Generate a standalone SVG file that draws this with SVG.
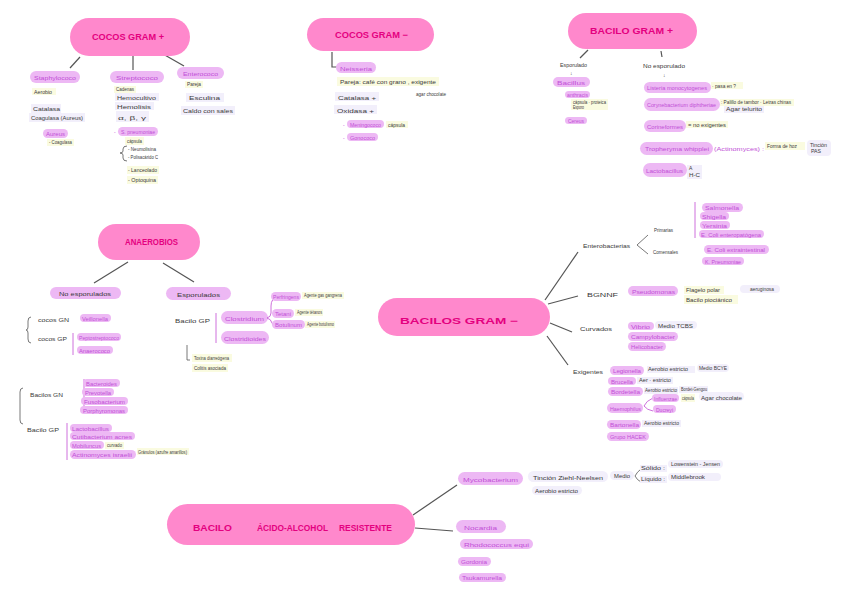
<svg xmlns="http://www.w3.org/2000/svg" width="848" height="599" viewBox="0 0 848 599">
<style>
text{font-family:"Liberation Sans",Arial,sans-serif;}
.main{fill:#ff88cc}
.mt{fill:#e4007f;font-weight:bold;font-size:9px}
.pill{fill:#edb8f4}
.pt{fill:#c14fd6;font-size:5px}
.t{fill:#3a3a3a;font-size:5px}
.hy{fill:#fafbe0}
.hl{fill:#f2effb}
.ln{stroke:#555;stroke-width:1.2;fill:none}
.br{stroke:#c860d8;stroke-width:0.9;fill:none}
.bk{stroke:#555;stroke-width:0.8;fill:none}
</style>
<rect width="848" height="599" fill="#fff"/>

<g id="connectors">
<line class="ln" x1="80" y1="57" x2="70" y2="68"/>
<line class="ln" x1="133" y1="56" x2="133" y2="70"/>
<line class="ln" x1="163" y1="54" x2="184" y2="66"/>
<path class="ln" d="M332,52 L332,67 L338,67"/>
<line class="ln" x1="588" y1="50" x2="580" y2="58"/>
<line class="ln" x1="661" y1="51" x2="662" y2="57"/>
<line class="ln" x1="128" y1="262" x2="94" y2="283"/>
<line class="ln" x1="163" y1="263" x2="194" y2="282"/>
<line class="ln" x1="545" y1="300" x2="578" y2="252"/>
<line class="ln" x1="548" y1="304" x2="578" y2="296"/>
<line class="ln" x1="550" y1="323" x2="572" y2="332"/>
<line class="ln" x1="547" y1="336" x2="568" y2="365"/>
<line class="ln" x1="413" y1="515" x2="457" y2="485"/>
<line class="ln" x1="415" y1="528" x2="453" y2="531"/>
</g>

<g id="cocos-gram-pos">
<rect class="main" x="70" y="18" width="120" height="38" rx="19"/>
<text class="mt" x="92" y="40" textLength="72" lengthAdjust="spacingAndGlyphs">COCOS GRAM +</text>
</g>
<g id="staphylococo">
<rect class="pill" x="30" y="71" width="50" height="12" rx="6"/>
<text class="pt" x="34" y="80" font-size="6.5" textLength="42" lengthAdjust="spacingAndGlyphs">Staphylococo</text>
<rect class="hy" x="32" y="88" width="24" height="7"/>
<text class="t" x="34" y="93.5" font-size="4" textLength="18" lengthAdjust="spacingAndGlyphs">Aerobio</text>
<rect class="hl" x="31" y="104" width="30" height="9"/>
<text class="t" x="33" y="111" font-size="6" textLength="27" lengthAdjust="spacingAndGlyphs">Catalasa</text>
<rect class="hl" x="29" y="113" width="56" height="9"/>
<text class="t" x="31" y="120" font-size="6" textLength="52" lengthAdjust="spacingAndGlyphs">Coagulasa (Aureus)</text>
<rect class="pill" x="43" y="129" width="25" height="9" rx="4.5"/>
<text class="pt" x="46" y="136" textLength="19" lengthAdjust="spacingAndGlyphs">Aureus</text>
<rect class="hy" x="47" y="139" width="27" height="7"/>
<text class="t" x="49" y="144" font-size="4" textLength="23" lengthAdjust="spacingAndGlyphs">- Coagulasa</text>
</g>
<g id="streptococo">
<rect class="pill" x="110" y="71" width="54" height="12" rx="6"/>
<text class="pt" x="116" y="80" font-size="6.5" textLength="42" lengthAdjust="spacingAndGlyphs">Streptococo</text>
<rect class="hy" x="114" y="86" width="22" height="7"/>
<text class="t" x="116" y="91" font-size="4" textLength="18" lengthAdjust="spacingAndGlyphs">Cadenas</text>
<rect class="hl" x="115" y="93" width="44" height="8"/>
<text class="t" x="117" y="99.5" font-size="5.5" textLength="39" lengthAdjust="spacingAndGlyphs">Hemocultivo</text>
<rect class="hl" x="115" y="102" width="39" height="8"/>
<text class="t" x="117" y="108.5" font-size="5.5" textLength="34" lengthAdjust="spacingAndGlyphs">Hemolisis</text>
<rect class="hl" x="116" y="111" width="33" height="11"/>
<text class="t" x="118" y="120" font-size="8" textLength="28" lengthAdjust="spacingAndGlyphs">α, β, γ</text>
<text class="pt" x="114" y="134">-</text>
<rect class="pill" x="118" y="127" width="40" height="9" rx="4.5"/>
<text class="pt" x="121" y="134" textLength="34" lengthAdjust="spacingAndGlyphs">S. pneumoniae</text>
<rect class="hy" x="125" y="137" width="19" height="8"/>
<text class="t" x="127" y="143" font-size="4" textLength="15" lengthAdjust="spacingAndGlyphs">cápsula</text>
<path class="bk" d="M127,146 Q123,146 123,149 L123,151 Q123,153 120,153 Q123,153 123,155 L123,158 Q123,161 127,161"/>
<text class="t" x="128" y="151" font-size="4" textLength="28" lengthAdjust="spacingAndGlyphs">- Neumolisina</text>
<text class="t" x="128" y="159" font-size="4" textLength="30" lengthAdjust="spacingAndGlyphs">- Polisacárido C</text>
<rect class="hy" x="127" y="166" width="32" height="8"/>
<text class="t" x="128" y="172" textLength="29" lengthAdjust="spacingAndGlyphs">- Lanceolado</text>
<rect class="hy" x="127" y="176" width="31" height="8"/>
<text class="t" x="128" y="182" textLength="28" lengthAdjust="spacingAndGlyphs">- Optoquina</text>
</g>
<g id="enterococo">
<rect class="pill" x="177" y="67" width="47" height="12" rx="6"/>
<text class="pt" x="183" y="76" font-size="6.5" textLength="35" lengthAdjust="spacingAndGlyphs">Enterococo</text>
<rect class="hy" x="185" y="81" width="18" height="7"/>
<text class="t" x="187" y="86" font-size="4" textLength="14" lengthAdjust="spacingAndGlyphs">Pareja</text>
<rect class="hl" x="186" y="93" width="38" height="9"/>
<text class="t" x="189" y="100" font-size="6" textLength="31" lengthAdjust="spacingAndGlyphs">Esculina</text>
<rect class="hl" x="181" y="106" width="54" height="9"/>
<text class="t" x="183" y="113" font-size="6" textLength="50" lengthAdjust="spacingAndGlyphs">Caldo con sales</text>
</g>

<g id="cocos-gram-neg">
<rect class="main" x="307" y="18" width="127" height="33" rx="16.5"/>
<text class="mt" x="335" y="37.5" font-size="8" textLength="73" lengthAdjust="spacingAndGlyphs">COCOS GRAM −</text>
</g>
<g id="neisseria">
<rect class="pill" x="336" y="62" width="40" height="11" rx="5.5"/>
<text class="pt" x="340" y="70.5" font-size="6.5" textLength="32" lengthAdjust="spacingAndGlyphs">Neisseria</text>
<rect class="hy" x="337" y="77" width="102" height="9"/>
<text class="t" x="340" y="84" font-size="5.5" textLength="96" lengthAdjust="spacingAndGlyphs">Pareja: café con grano , exigente</text>
<text class="t" x="416" y="96" font-size="4" textLength="30" lengthAdjust="spacingAndGlyphs">agar chocolate</text>
<rect class="hl" x="335" y="92" width="44" height="9"/>
<text class="t" x="338" y="99.5" font-size="6" textLength="38" lengthAdjust="spacingAndGlyphs">Catalasa +</text>
<rect class="hl" x="334" y="105" width="43" height="9"/>
<text class="t" x="337" y="112.5" font-size="6" textLength="37" lengthAdjust="spacingAndGlyphs">Oxidasa +</text>
<text class="pt" x="343" y="126.5">-</text>
<rect class="pill" x="347" y="120" width="37" height="8" rx="4"/>
<text class="pt" x="350" y="126.5" textLength="31" lengthAdjust="spacingAndGlyphs">Meningococo</text>
<rect class="hy" x="386" y="121" width="22" height="7"/>
<text class="t" x="388" y="126.5" font-size="4" textLength="17" lengthAdjust="spacingAndGlyphs">cápsula</text>
<text class="pt" x="343" y="139.5">-</text>
<rect class="pill" x="347" y="133" width="31" height="8" rx="4"/>
<text class="pt" x="350" y="139.5" textLength="25" lengthAdjust="spacingAndGlyphs">Gonococo</text>
</g>

<g id="bacilo-gram-pos">
<rect class="main" x="568" y="13" width="129" height="36" rx="18"/>
<text class="mt" x="590" y="34" font-size="8" textLength="83" lengthAdjust="spacingAndGlyphs">BACILO GRAM +</text>
</g>
<g id="esporulado">
<text class="t" x="560" y="67" textLength="27" lengthAdjust="spacingAndGlyphs">Esporulado</text>
<text class="t" x="570" y="75" font-size="6">↓</text>
<rect class="pill" x="553" y="77" width="37" height="10" rx="5"/>
<text class="pt" x="557" y="85" font-size="6" textLength="28" lengthAdjust="spacingAndGlyphs">Bacillus</text>
<rect class="pill" x="565" y="91" width="25" height="7" rx="3.5"/>
<text class="pt" x="567" y="96.5" font-size="4.5" textLength="21" lengthAdjust="spacingAndGlyphs">anthracis</text>
<rect class="hy" x="571" y="99" width="37" height="11"/>
<text class="t" x="573" y="103.5" font-size="3.8" textLength="33" lengthAdjust="spacingAndGlyphs">cápsula · proteica</text>
<text class="t" x="573" y="108.5" font-size="3.8" textLength="11" lengthAdjust="spacingAndGlyphs">Esporo</text>
<rect class="pill" x="565" y="117" width="22" height="7" rx="3.5"/>
<text class="pt" x="568" y="122.5" font-size="4.5" textLength="16" lengthAdjust="spacingAndGlyphs">Cereus</text>
</g>
<g id="no-esporulado">
<text class="t" x="643" y="68" textLength="42" lengthAdjust="spacingAndGlyphs">No esporulado</text>
<text class="t" x="663" y="77" font-size="6">↓</text>
<rect class="pill" x="644" y="82" width="67" height="11" rx="5.5"/>
<text class="pt" x="647" y="90" font-size="6" textLength="60" lengthAdjust="spacingAndGlyphs">Listeria monocytogenes</text>
<rect class="hy" x="711" y="82" width="32" height="7"/>
<text class="t" x="712" y="87.5" font-size="4" textLength="24" lengthAdjust="spacingAndGlyphs">· pasa en ?</text>
<rect class="pill" x="644" y="98" width="76" height="13" rx="6.5"/>
<text class="pt" x="647" y="107" font-size="6.5" textLength="69" lengthAdjust="spacingAndGlyphs">Corynebacterium diphtheriae</text>
<rect class="hy" x="720" y="99" width="74" height="7"/>
<text class="t" x="721" y="104" font-size="4" textLength="70" lengthAdjust="spacingAndGlyphs">: Palillo de tambor · Letras chinas</text>
<rect class="hl" x="724" y="106" width="40" height="7"/>
<text class="t" x="726" y="111" font-size="4" textLength="36" lengthAdjust="spacingAndGlyphs">Agar telurito</text>
<rect class="pill" x="644" y="120" width="42" height="12" rx="6"/>
<text class="pt" x="647" y="128.5" font-size="6" textLength="36" lengthAdjust="spacingAndGlyphs">Corineformes</text>
<rect class="hy" x="686" y="121" width="42" height="7"/>
<text class="t" x="688" y="126.5" font-size="4" textLength="38" lengthAdjust="spacingAndGlyphs">= no exigentes</text>
<rect class="pill" x="640" y="142" width="73" height="13" rx="6.5"/>
<text class="pt" x="645" y="151" font-size="6.5" textLength="64" lengthAdjust="spacingAndGlyphs">Tropheryma whipplei</text>
<text class="pt" x="714" y="151" font-size="6.5" textLength="50" lengthAdjust="spacingAndGlyphs">(Actinomyces) :</text>
<rect class="hy" x="765" y="142" width="40" height="8"/>
<text class="t" x="767" y="148" font-size="4" textLength="30" lengthAdjust="spacingAndGlyphs">Forma de hoz</text>
<rect class="hl" x="807" y="140" width="24" height="16" rx="4"/>
<text class="t" x="810" y="146.5" font-size="4" textLength="17" lengthAdjust="spacingAndGlyphs">Tinción</text>
<text class="t" x="811" y="153" font-size="4" textLength="10" lengthAdjust="spacingAndGlyphs">PAS</text>
<rect class="pill" x="643" y="163" width="44" height="14" rx="7"/>
<text class="pt" x="646" y="173" font-size="6.5" textLength="37" lengthAdjust="spacingAndGlyphs">Lactobacillus</text>
<rect class="hl" x="687" y="165" width="15" height="14"/>
<text class="t" x="689" y="170" font-size="4">A</text>
<text class="t" x="689" y="177" font-size="5" textLength="11" lengthAdjust="spacingAndGlyphs">H-C</text>
</g>

<g id="anaerobios">
<rect class="main" x="98" y="224" width="102" height="36" rx="18"/>
<text class="mt" x="125" y="245" font-size="8" textLength="53" lengthAdjust="spacingAndGlyphs">ANAEROBIOS</text>
</g>
<g id="no-esporulados">
<rect class="pill" x="50" y="287" width="71" height="12" rx="6"/>
<text class="t" x="59" y="296" font-size="7" textLength="52" lengthAdjust="spacingAndGlyphs">No esporulados</text>
<path class="bk" d="M31,317 Q28,317 28,321 L28,327 Q28,330 26,330 Q28,330 28,333 L28,339 Q28,343 31,343"/>
<text class="t" x="38" y="321.5" font-size="5.5" textLength="31" lengthAdjust="spacingAndGlyphs">cocos GN</text>
<rect class="pill" x="80" y="314" width="31" height="8" rx="4"/>
<text class="pt" x="82" y="320.5" textLength="26" lengthAdjust="spacingAndGlyphs">Veillonella</text>
<text class="t" x="38" y="340.5" font-size="5.5" textLength="29" lengthAdjust="spacingAndGlyphs">cocos GP</text>
<line class="br" x1="73" y1="333" x2="73" y2="355"/>
<rect class="pill" x="77" y="333" width="44" height="8" rx="4"/>
<text class="pt" x="79" y="339.5" textLength="40" lengthAdjust="spacingAndGlyphs">Peptostreptococo</text>
<rect class="pill" x="77" y="346" width="36" height="8" rx="4"/>
<text class="pt" x="79" y="352.5" textLength="31" lengthAdjust="spacingAndGlyphs">Anaerococo</text>
<path class="bk" d="M23,388 Q20,388 20,392 L20,420 Q20,424 23,424"/>
<text class="t" x="30" y="396.5" font-size="5.5" textLength="33" lengthAdjust="spacingAndGlyphs">Bacilos GN</text>
<line class="br" x1="84" y1="379" x2="84" y2="413"/>
<rect class="pill" x="83" y="379" width="37" height="8" rx="4"/>
<text class="pt" x="86" y="385.5" textLength="31" lengthAdjust="spacingAndGlyphs">Bacteroides</text>
<rect class="pill" x="82" y="388" width="32" height="8" rx="4"/>
<text class="pt" x="85" y="394.5" textLength="26" lengthAdjust="spacingAndGlyphs">Prevotella</text>
<rect class="pill" x="81" y="397" width="47" height="8" rx="4"/>
<text class="pt" x="84" y="403.5" textLength="41" lengthAdjust="spacingAndGlyphs">Fusobacterium</text>
<rect class="pill" x="80" y="406" width="48" height="8" rx="4"/>
<text class="pt" x="83" y="412.5" textLength="42" lengthAdjust="spacingAndGlyphs">Porphyromonas</text>
<text class="t" x="27" y="431.5" font-size="5.5" textLength="32" lengthAdjust="spacingAndGlyphs">Bacilo GP</text>
<line class="br" x1="67" y1="423" x2="67" y2="460"/>
<rect class="pill" x="70" y="424" width="42" height="8" rx="4"/>
<text class="pt" x="72" y="430.5" textLength="37" lengthAdjust="spacingAndGlyphs">Lactobacillus</text>
<rect class="pill" x="70" y="432" width="65" height="8" rx="4"/>
<text class="pt" x="72" y="438.5" textLength="60" lengthAdjust="spacingAndGlyphs">Cutibacterium acnes</text>
<rect class="pill" x="70" y="441" width="34" height="8" rx="4"/>
<text class="pt" x="72" y="447.5" textLength="29" lengthAdjust="spacingAndGlyphs">Mobiluncus</text>
<rect class="hy" x="105" y="442" width="19" height="7"/>
<text class="t" x="107" y="447" font-size="4" textLength="15" lengthAdjust="spacingAndGlyphs">curvado</text>
<rect class="pill" x="70" y="450" width="66" height="9" rx="4.5"/>
<text class="pt" x="72" y="457" textLength="60" lengthAdjust="spacingAndGlyphs">Actinomyces israelii</text>
<rect class="hy" x="137" y="448" width="52" height="7"/>
<text class="t" x="138" y="453.5" font-size="4" textLength="49" lengthAdjust="spacingAndGlyphs">Gránulos (azufre amarillos)</text>
</g>
<g id="esporulados">
<rect class="pill" x="166" y="287" width="65" height="13" rx="6.5"/>
<text class="t" x="177" y="297" font-size="7" textLength="43" lengthAdjust="spacingAndGlyphs">Esporulados</text>
<text class="t" x="175" y="322.5" font-size="6" textLength="35" lengthAdjust="spacingAndGlyphs">Bacilo GP</text>
<line class="br" x1="216" y1="313" x2="216" y2="343"/>
<rect class="pill" x="221" y="311" width="47" height="13" rx="6.5"/>
<text class="pt" x="225" y="320.5" font-size="7" textLength="39" lengthAdjust="spacingAndGlyphs">Clostridium</text>
<rect class="pill" x="221" y="331" width="48" height="13" rx="6.5"/>
<text class="pt" x="224" y="340.5" font-size="7" textLength="42" lengthAdjust="spacingAndGlyphs">Clostridioides</text>
<path class="br" d="M278,297 Q271,298 271,306 L271,313 Q271,317 267,318 Q271,319 272,323 L274,326"/>
<rect class="pill" x="271" y="292" width="30" height="9" rx="4.5"/>
<text class="pt" x="273" y="299" textLength="26" lengthAdjust="spacingAndGlyphs">Perfringens</text>
<rect class="hy" x="302" y="292" width="42" height="7"/>
<text class="t" x="304" y="297" font-size="3.8" textLength="38" lengthAdjust="spacingAndGlyphs">Agente gas gangrena</text>
<rect class="pill" x="272" y="309" width="22" height="9" rx="4.5"/>
<text class="pt" x="275" y="316" textLength="16" lengthAdjust="spacingAndGlyphs">Tetani</text>
<rect class="hy" x="295" y="309" width="28" height="7"/>
<text class="t" x="297" y="314" font-size="3.8" textLength="25" lengthAdjust="spacingAndGlyphs">Agente tétanos</text>
<rect class="pill" x="272" y="320" width="33" height="9" rx="4.5"/>
<text class="pt" x="275" y="327" textLength="27" lengthAdjust="spacingAndGlyphs">Botulinum</text>
<rect class="hy" x="305" y="321" width="30" height="7"/>
<text class="t" x="307" y="326" font-size="3.8" textLength="27" lengthAdjust="spacingAndGlyphs">Agente botulismo</text>
<path class="bk" d="M187,345 L187,360 L190,360"/>
<rect class="hy" x="192" y="354" width="40" height="8"/>
<text class="t" x="194" y="360" font-size="4" textLength="35" lengthAdjust="spacingAndGlyphs">Toxina diarreógena</text>
<rect class="hy" x="192" y="364" width="36" height="8"/>
<text class="t" x="194" y="370" font-size="4" textLength="32" lengthAdjust="spacingAndGlyphs">Colitis asociada</text>
</g>

<g id="bacilos-gram-neg">
<rect class="main" x="378" y="298" width="172" height="38" rx="19"/>
<text class="mt" x="400" y="324" font-size="11" textLength="118" lengthAdjust="spacingAndGlyphs">BACILOS GRAM −</text>
</g>
<g id="enterobacterias">
<text class="t" x="583" y="248" font-size="5.5" textLength="47" lengthAdjust="spacingAndGlyphs">Enterobacterias</text>
<path class="bk" d="M648,235 L637,245 L648,254"/>
<text class="t" x="654" y="231.5" textLength="19" lengthAdjust="spacingAndGlyphs">Primarias</text>
<text class="t" x="653" y="254" textLength="25" lengthAdjust="spacingAndGlyphs">Comensales</text>
<line class="br" x1="695" y1="202" x2="695" y2="238"/>
<rect class="pill" x="702" y="203" width="41" height="9" rx="4.5"/>
<text class="pt" x="705" y="210" textLength="34" lengthAdjust="spacingAndGlyphs">Salmonella</text>
<rect class="pill" x="700" y="212" width="29" height="8" rx="4"/>
<text class="pt" x="702" y="218.5" textLength="24" lengthAdjust="spacingAndGlyphs">Shigella</text>
<rect class="pill" x="700" y="221" width="30" height="8" rx="4"/>
<text class="pt" x="702" y="227.5" textLength="25" lengthAdjust="spacingAndGlyphs">Yersinia</text>
<rect class="pill" x="699" y="230" width="65" height="8" rx="4"/>
<text class="pt" x="701" y="236.5" textLength="60" lengthAdjust="spacingAndGlyphs">E. Coli enteropatógena</text>
<rect class="pill" x="704" y="245" width="65" height="9" rx="4.5"/>
<text class="pt" x="707" y="252" textLength="58" lengthAdjust="spacingAndGlyphs">E. Coli extraintestinal</text>
<rect class="pill" x="702" y="257" width="42" height="8" rx="4"/>
<text class="pt" x="705" y="263.5" textLength="36" lengthAdjust="spacingAndGlyphs">K. Pneumoniae</text>
</g>
<g id="bgnnf">
<text class="t" x="587" y="297" font-size="6.5" textLength="31" lengthAdjust="spacingAndGlyphs">BGNNF</text>
<rect class="pill" x="628" y="286" width="50" height="10" rx="5"/>
<text class="pt" x="632" y="294" font-size="6" textLength="43" lengthAdjust="spacingAndGlyphs">Pseudomonas</text>
<rect class="hy" x="684" y="286" width="40" height="8"/>
<text class="t" x="686" y="292" font-size="4.5" textLength="34" lengthAdjust="spacingAndGlyphs">Flagelo polar</text>
<rect class="hy" x="684" y="295" width="54" height="9"/>
<text class="t" x="686" y="301.5" font-size="4.5" textLength="46" lengthAdjust="spacingAndGlyphs">Bacilo piociánico</text>
<rect class="hl" x="740" y="285" width="40" height="8" rx="4"/>
<text class="t" x="750" y="291" font-size="4" textLength="24" lengthAdjust="spacingAndGlyphs">aeruginosa</text>
</g>
<g id="curvados">
<text class="t" x="580" y="331" font-size="6" textLength="32" lengthAdjust="spacingAndGlyphs">Curvados</text>
<rect class="pill" x="628" y="322" width="26" height="8" rx="4"/>
<text class="pt" x="631" y="328.5" font-size="5.5" textLength="19" lengthAdjust="spacingAndGlyphs">Vibrio</text>
<rect class="hl" x="655" y="321" width="42" height="8" rx="4"/>
<text class="t" x="658" y="327.5" font-size="4.5" textLength="35" lengthAdjust="spacingAndGlyphs">Medio TCBS</text>
<rect class="pill" x="628" y="332" width="50" height="9" rx="4.5"/>
<text class="pt" x="631" y="339" font-size="5.5" textLength="44" lengthAdjust="spacingAndGlyphs">Campylobacter</text>
<rect class="pill" x="628" y="342" width="38" height="9" rx="4.5"/>
<text class="pt" x="631" y="349" font-size="5.5" textLength="32" lengthAdjust="spacingAndGlyphs">Helicobacter</text>
</g>
<g id="exigentes">
<text class="t" x="573" y="373.5" font-size="6" textLength="30" lengthAdjust="spacingAndGlyphs">Exigentes</text>
<rect class="pill" x="610" y="366" width="34" height="9" rx="4.5"/>
<text class="pt" x="613" y="373" font-size="5.5" textLength="28" lengthAdjust="spacingAndGlyphs">Legionella</text>
<rect class="hl" x="647" y="366" width="48" height="7"/>
<text class="t" x="648" y="371" font-size="4" textLength="40" lengthAdjust="spacingAndGlyphs">Aerobio estricto</text>
<rect class="hl" x="697" y="364" width="32" height="8" rx="4"/>
<text class="t" x="699" y="370" font-size="4.5" textLength="28" lengthAdjust="spacingAndGlyphs">Medio BCYE</text>
<rect class="pill" x="608" y="377" width="28" height="8" rx="4"/>
<text class="pt" x="611" y="383.5" textLength="22" lengthAdjust="spacingAndGlyphs">Brucella</text>
<rect class="hl" x="637" y="377" width="36" height="7"/>
<text class="t" x="639" y="382" font-size="4" textLength="32" lengthAdjust="spacingAndGlyphs">Aer · estricto</text>
<rect class="pill" x="608" y="387" width="35" height="9" rx="4.5"/>
<text class="pt" x="611" y="394" textLength="29" lengthAdjust="spacingAndGlyphs">Bordetella</text>
<rect class="hl" x="644" y="387" width="34" height="7"/>
<text class="t" x="645" y="392" font-size="4" textLength="32" lengthAdjust="spacingAndGlyphs">Aerobio estricto</text>
<rect class="hl" x="679" y="386" width="29" height="7"/>
<text class="t" x="681" y="391" font-size="4" textLength="26" lengthAdjust="spacingAndGlyphs">Bordet-Gengou</text>
<rect class="pill" x="607" y="403" width="36" height="10" rx="5"/>
<text class="pt" x="610" y="410.5" textLength="31" lengthAdjust="spacingAndGlyphs">Haemophilus</text>
<path class="br" d="M653,398 Q646,401 644,406 Q647,410 653,411"/>
<rect class="pill" x="652" y="394" width="27" height="8" rx="4"/>
<text class="pt" x="654" y="400.5" textLength="23" lengthAdjust="spacingAndGlyphs">Influenzae</text>
<rect class="hy" x="681" y="394" width="14" height="8"/>
<text class="t" x="682" y="400" font-size="3.5" textLength="12" lengthAdjust="spacingAndGlyphs">cápsula</text>
<rect class="hl" x="699" y="392" width="45" height="9" rx="4.5"/>
<text class="t" x="701" y="399.5" textLength="41" lengthAdjust="spacingAndGlyphs">Agar chocolate</text>
<rect class="pill" x="653" y="405" width="23" height="8" rx="4"/>
<text class="pt" x="656" y="411.5" textLength="17" lengthAdjust="spacingAndGlyphs">Ducreyi</text>
<rect class="pill" x="607" y="420" width="34" height="9" rx="4.5"/>
<text class="pt" x="610" y="427" textLength="29" lengthAdjust="spacingAndGlyphs">Bartonella</text>
<rect class="hl" x="642" y="420" width="39" height="7"/>
<text class="t" x="644" y="425" font-size="4" textLength="35" lengthAdjust="spacingAndGlyphs">Aerobio estricto</text>
<rect class="pill" x="607" y="432" width="42" height="9" rx="4.5"/>
<text class="pt" x="610" y="439" textLength="36" lengthAdjust="spacingAndGlyphs">Grupo HACEK</text>
</g>

<g id="bacilo-acido-alcohol">
<rect class="main" x="167" y="504" width="248" height="41" rx="20.5"/>
<text class="mt" y="531" font-size="10"><tspan x="193" textLength="39" lengthAdjust="spacingAndGlyphs">BACILO</tspan><tspan x="257" textLength="71" lengthAdjust="spacingAndGlyphs">ÁCIDO-ALCOHOL</tspan><tspan x="339" textLength="53" lengthAdjust="spacingAndGlyphs">RESISTENTE</tspan></text>
</g>
<g id="mycobacterium">
<rect class="pill" x="458" y="472" width="65" height="13" rx="6.5"/>
<text class="pt" x="463" y="481.5" font-size="7" textLength="55" lengthAdjust="spacingAndGlyphs">Mycobacterium</text>
<rect class="hl" x="528" y="471" width="80" height="11" rx="5.5"/>
<text class="t" x="533" y="479.5" font-size="6" textLength="70" lengthAdjust="spacingAndGlyphs">Tinción Ziehl-Neelsen</text>
<rect class="hl" x="532" y="486" width="50" height="9" rx="4.5"/>
<text class="t" x="535" y="493" textLength="43" lengthAdjust="spacingAndGlyphs">Aerobio estricto</text>
<rect class="hl" x="610" y="471" width="24" height="9" rx="4.5"/>
<text class="t" x="614" y="478" textLength="16" lengthAdjust="spacingAndGlyphs">Medio</text>
<path class="bk" d="M641,469 Q637,472 635,476 Q637,480 641,482"/>
<rect class="hl" x="640" y="465" width="27" height="7"/>
<text class="t" x="641" y="470" font-size="4.5" textLength="24" lengthAdjust="spacingAndGlyphs">Sólido :</text>
<rect class="hl" x="668" y="460" width="55" height="8" rx="4"/>
<text class="t" x="671" y="466" font-size="4.5" textLength="49" lengthAdjust="spacingAndGlyphs">Lowenstein - Jensen</text>
<rect class="hl" x="640" y="476" width="27" height="7"/>
<text class="t" x="641" y="481" font-size="4.5" textLength="24" lengthAdjust="spacingAndGlyphs">Líquido :</text>
<rect class="hl" x="668" y="473" width="53" height="8" rx="4"/>
<text class="t" x="671" y="479" font-size="4.5" textLength="34" lengthAdjust="spacingAndGlyphs">Middlebrook</text>
</g>
<g id="nocardia">
<rect class="pill" x="456" y="520" width="50" height="13" rx="6.5"/>
<text class="pt" x="464" y="529.5" font-size="7" textLength="33" lengthAdjust="spacingAndGlyphs">Nocardia</text>
<rect class="pill" x="460" y="539" width="73" height="10" rx="5"/>
<text class="pt" x="464" y="546.5" font-size="6" textLength="65" lengthAdjust="spacingAndGlyphs">Rhodococcus equi</text>
<rect class="pill" x="458" y="557" width="33" height="9" rx="4.5"/>
<text class="pt" x="461" y="564" font-size="5.5" textLength="26" lengthAdjust="spacingAndGlyphs">Gordonia</text>
<rect class="pill" x="459" y="573" width="47" height="9" rx="4.5"/>
<text class="pt" x="462" y="580" font-size="5.5" textLength="40" lengthAdjust="spacingAndGlyphs">Tsukamurella</text>
</g>
</svg>
